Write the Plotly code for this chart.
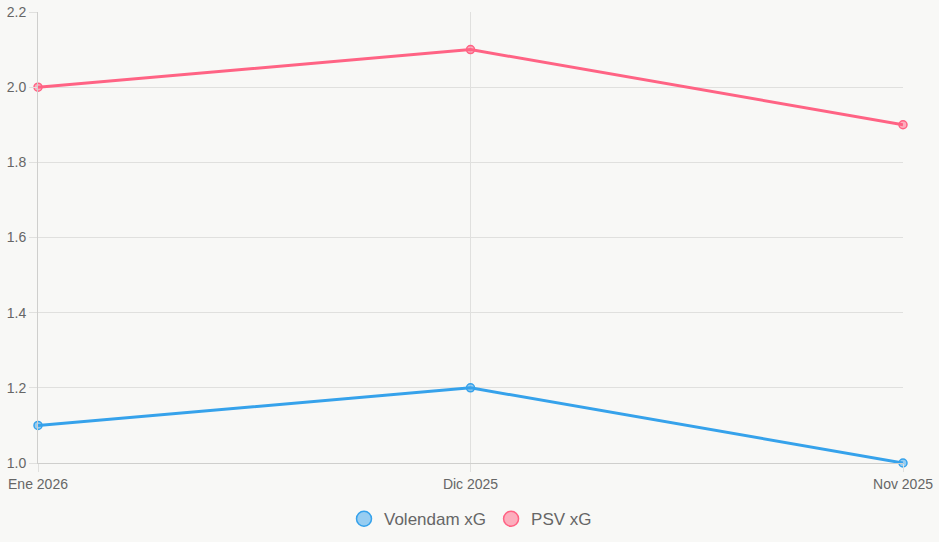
import plotly.graph_objects as go

categories = ["Ene 2026", "Dic 2025", "Nov 2025"]
volendam_xg = [1.1, 1.2, 1.0]
psv_xg = [2.0, 2.1, 1.9]
y_ticks = [1.0, 1.2, 1.4, 1.6, 1.8, 2.0, 2.2]

BLUE = "#36A2EB"
PINK = "#FF6384"
BLUE_FILL = "rgba(54,162,235,0.5)"
PINK_FILL = "rgba(255,99,132,0.5)"
BG = "#f8f8f6"
GRID = "#e0e0de"

xs = list(range(len(categories)))

fig = go.Figure()
for name, vals, col, fill in [("Volendam xG", volendam_xg, BLUE, BLUE_FILL),
                              ("PSV xG", psv_xg, PINK, PINK_FILL)]:
    fig.add_trace(go.Scatter(
        x=xs, y=vals, mode="lines+markers", name=name, showlegend=False,
        line=dict(color=col, width=3),
        marker=dict(size=8, color=fill, line=dict(color=col, width=1.5)),
        hoverinfo="skip", cliponaxis=False))
    fig.add_trace(go.Scatter(
        x=[None], y=[None], mode="markers", name=name, showlegend=True,
        marker=dict(size=15, color=fill, line=dict(color=col, width=1.5))))

fig.update_layout(
    width=939, height=542,
    margin=dict(l=38, r=36, t=12, b=79, autoexpand=False),
    paper_bgcolor=BG, plot_bgcolor=BG,
    font=dict(family="Liberation Sans, Arial, sans-serif", color="#666666", size=14),
    legend=dict(orientation="h", x=0.5, xanchor="center",
                yref="container", y=0.042, yanchor="middle",
                font=dict(size=17, color="#666666"), itemsizing="trace",
                bgcolor="rgba(0,0,0,0)", itemwidth=30, tracegroupgap=0),
    xaxis=dict(range=[0, 2], tickmode="array", tickvals=xs, ticktext=categories,
               showgrid=True, gridcolor=GRID, gridwidth=1, automargin=False,
               ticks="outside", ticklen=8, tickcolor=GRID,
               showline=True, linecolor="#cfcfcd", linewidth=1,
               zeroline=False, tickfont=dict(size=14)),
    yaxis=dict(range=[1.0, 2.2], tickmode="array", tickvals=y_ticks,
               ticktext=[f"{v:.1f}" for v in y_ticks],
               showgrid=True, gridcolor=GRID, gridwidth=1, automargin=False,
               ticks="outside", ticklen=8, tickcolor=GRID,
               showline=True, linecolor="#cfcfcd", linewidth=1,
               zeroline=False, tickfont=dict(size=14)),
)

fig.write_html("out.html")
